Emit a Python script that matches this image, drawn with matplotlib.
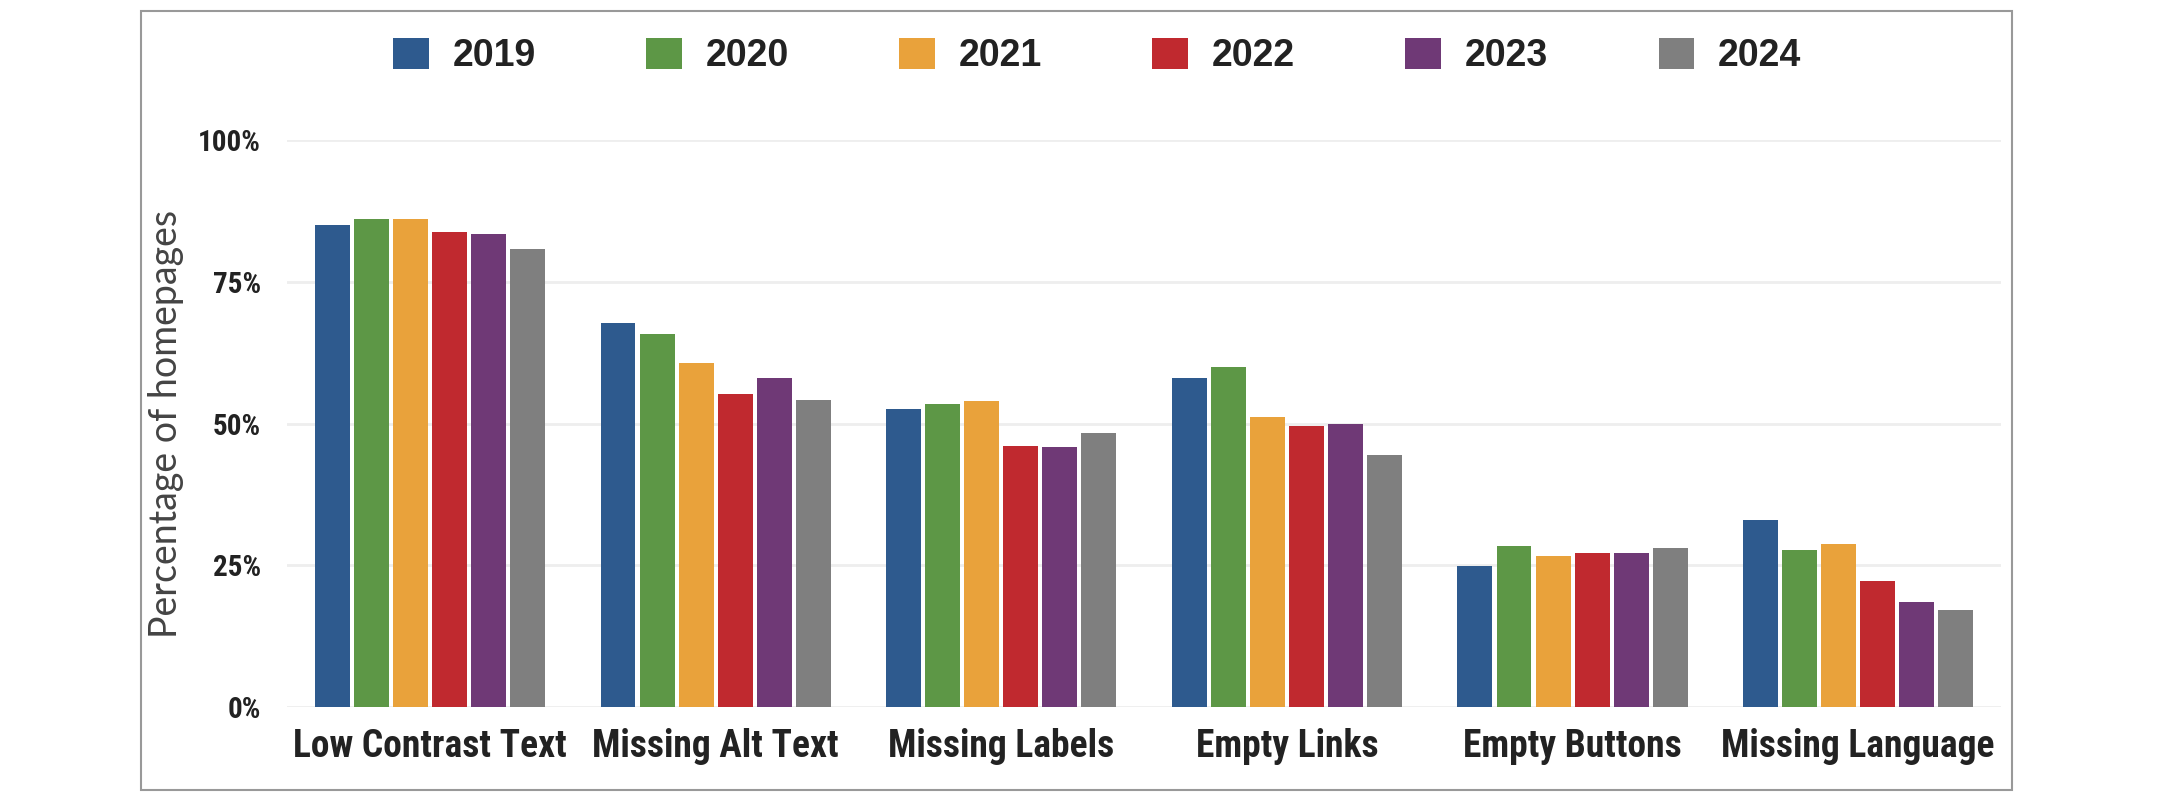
import numpy as np
import matplotlib
matplotlib.use("Agg")
import matplotlib.pyplot as plt
from matplotlib.patches import Rectangle

# données (pourcentage des pages d'accueil)
categories = ["Low Contrast Text", "Missing Alt Text", "Missing Labels",
              "Empty Links", "Empty Buttons", "Missing Language"]
years = ["2019", "2020", "2021", "2022", "2023", "2024"]
v2019 = [85.0, 67.8, 52.6, 58.1, 24.9, 33.0]
v2020 = [86.1, 65.8, 53.5, 59.9, 28.5, 27.8]
v2021 = [86.1, 60.6, 54.0, 51.2, 26.6, 28.7]
v2022 = [83.8, 55.3, 46.0, 49.6, 27.1, 22.2]
v2023 = [83.5, 58.1, 45.8, 50.0, 27.2, 18.5]
v2024 = [80.8, 54.2, 48.4, 44.5, 28.0, 17.1]
yticks = [0, 25, 50, 75, 100]
ytick_labels = ["0%", "25%", "50%", "75%", "100%"]

series = [v2019, v2020, v2021, v2022, v2023, v2024]
colors = ["#2e5a8e", "#5d9746", "#e9a23b", "#c0292f", "#6f3976", "#7f7f7f"]

narrow = ["Roboto Condensed", "Liberation Sans"]

fig = plt.figure(figsize=(21.6, 8), dpi=100)
ax = fig.add_axes([0.1329, 0.116, 0.7935, 0.709])

x = np.arange(len(categories))
step = 0.1366
for i, vals in enumerate(series):
    ax.bar(x + (i - 2.5) * step, vals, width=0.1225, color=colors[i],
           label=years[i], zorder=3)

ax.set_xlim(-0.5, 5.5)
ax.set_ylim(0, 100)
ax.set_yticks(yticks)
ax.set_yticklabels(ytick_labels, family=narrow, fontweight="bold",
                   fontsize=21, color="#222222")
ax.set_xticks(x)
ax.set_xticklabels(categories, family=narrow, fontweight="bold",
                   fontsize=27, color="#222222")
ax.tick_params(axis="both", length=0)
ax.tick_params(axis="y", pad=19)
ax.tick_params(axis="x", pad=15)
ax.grid(axis="y", color="#eeeeee", lw=2, zorder=0)
for s in ax.spines.values():
    s.set_visible(False)

ax.set_ylabel("Percentage of homepages", family="Lato", fontsize=27,
              color="#444444")
ax.yaxis.set_label_coords(-0.060, 0.5)

fig.legend(loc="center", bbox_to_anchor=(0.508, 0.93), ncol=6, frameon=False,
           prop={"family": "Liberation Sans", "weight": "bold", "size": 27},
           handlelength=0.95, handleheight=0.93, handletextpad=0.64,
           columnspacing=2.94, borderpad=0, labelcolor="#222222")

# cadre gris autour du graphique
fig.patches.append(Rectangle((0.0653, 0.0125), 0.8662, 0.9735,
                             transform=fig.transFigure, fill=False,
                             edgecolor="#999999", lw=1.5))

fig.savefig("out.png", dpi=100, facecolor="white")
